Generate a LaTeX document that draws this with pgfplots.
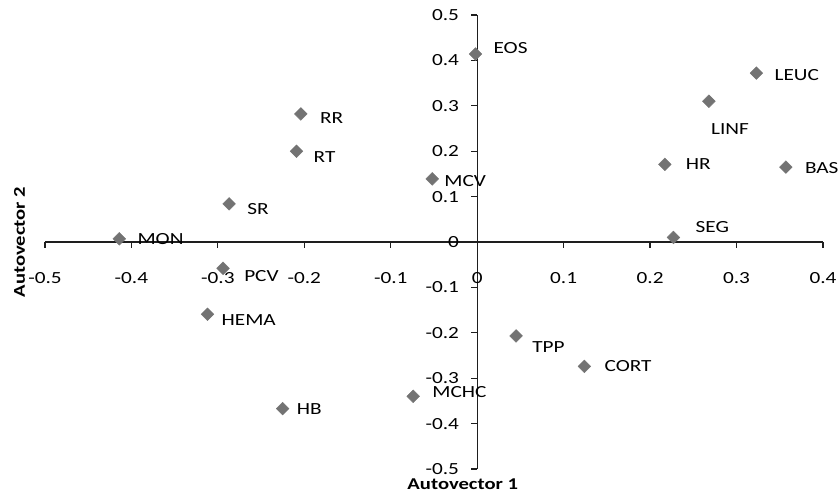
\documentclass[border=0pt]{standalone}
\usepackage{fontspec}
\setmainfont[FakeStretch=1.25]{Carlito}
\usepackage{pgfplots}
\usepackage{pgfplotstable}
\pgfplotsset{compat=1.18}
\definecolor{mk}{RGB}{115,115,115}
\definecolor{ax}{RGB}{30,30,30}
\pgfplotstableread{
x      y      label dx dy
-0.204  0.282 RR    19  -4
-0.209  0.200 RT    17  -6
-0.287  0.084 SR    18  -5
-0.414  0.007 MON   18   0
-0.002  0.414 EOS   18   6
 0.323  0.372 LEUC  18  -2
 0.268  0.310 LINF   2 -28
 0.217  0.171 HR    21   0
 0.357  0.165 BAS   19  -1
-0.052  0.139 MCV   12  -2
 0.227  0.010 SEG   22  10
-0.294 -0.058 PCV   21  -8
-0.312 -0.159 HEMA  14  -6
-0.225 -0.367 HB    14   0
-0.074 -0.340 MCHC  19   4
 0.045 -0.207 TPP   16 -11
 0.124 -0.274 CORT  20   0
}\datatable
\begin{document}
\begin{tikzpicture}
\begin{axis}[
  scale only axis, width=778pt, height=454pt,
  axis lines=middle,
  axis line style={-, ax, line width=1.2pt},
  xmin=-0.5, xmax=0.4, ymin=-0.5, ymax=0.5,
  xtick={-0.5,-0.4,-0.3,-0.2,-0.1,0,0.1,0.2,0.3,0.4},
  ytick={-0.5,-0.4,-0.3,-0.2,-0.1,0,0.1,0.2,0.3,0.4,0.5},
  xticklabels={-0.5,-0.4,-0.3,-0.2,-0.1,0,0.1,0.2,0.3,0.4},
  yticklabels={-0.5,-0.4,-0.3,-0.2,-0.1,0,0.1,0.2,0.3,0.4,0.5},
  hide obscured x ticks=false, hide obscured y ticks=false,
  tick align=outside, major tick length=6pt,
  tick style={ax, line width=1.2pt},
  xticklabel style={font=\fontsize{17}{20}\selectfont, text=black, anchor=center, inner sep=0pt, yshift=-30pt},
  yticklabel style={font=\fontsize{17}{20}\selectfont, text=black, anchor=east, inner sep=0pt, xshift=-12pt},
  clip=false,
]
\addplot[only marks, mark=square*, mark size=4.5pt,
  mark options={rotate=45, fill=mk, draw=mk},
  visualization depends on={\thisrow{dx}\as\labdx},
  visualization depends on={\thisrow{dy}\as\labdy},
  point meta=explicit symbolic,
  nodes near coords,
  nodes near coords style={anchor=west, inner sep=0pt, xshift=\labdx, yshift=\labdy,
    font=\fontsize{17}{20}\selectfont, text=black},
] table[x=x, y=y, meta=label] {\datatable};
\node[font=\bfseries\fontsize{16.5}{20}\selectfont, anchor=center, inner sep=0pt]
  at (rel axis cs:0.537,-0.033) {Autovector 1};
\node[font=\bfseries\fontsize{16.5}{20}\selectfont, anchor=center, inner sep=0pt, rotate=90]
  at (rel axis cs:-0.0328,0.5) {Autovector 2};
\coordinate (bbA) at (rel axis cs:-0.0578,1.033);
\coordinate (bbB) at (rel axis cs:1.0193,-0.0595);
\end{axis}
\pgfresetboundingbox
\path[use as bounding box] (bbA) rectangle (bbB);
\end{tikzpicture}
\end{document}
